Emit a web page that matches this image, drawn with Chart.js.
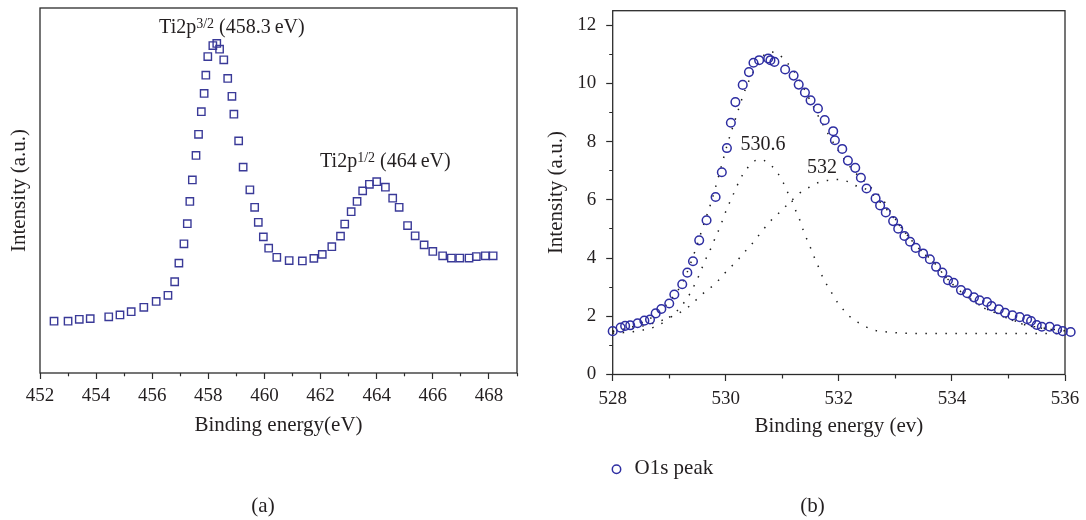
<!DOCTYPE html>
<html>
<head>
<meta charset="utf-8">
<script src="https://cdn.jsdelivr.net/npm/chart.js@4.4.1/dist/chart.umd.min.js"></script>
<style>
  body { margin: 0; background: #fff; }
  #wrap { position: relative; width: 1086px; height: 520px; }
  canvas { position: absolute; top: 0; }
  #ti { left: 0; }
  #os { left: 540px; }
</style>
</head>
<body>
<div id="wrap">
  <canvas id="ti" width="540" height="520"></canvas>
  <canvas id="os" width="546" height="520"></canvas>
</div>
<script>
// Ti 2p region, intensity in arbitrary units
const tiEnergy = [452.50, 453.00, 453.40, 453.79, 454.45, 454.85, 455.25, 455.70, 456.14, 456.56,
  456.80, 456.95, 457.13, 457.25, 457.34, 457.43, 457.56, 457.65, 457.75, 457.85,
  457.91, 457.98, 458.16, 458.30, 458.40, 458.55, 458.69, 458.84, 458.91, 459.08,
  459.24, 459.48, 459.65, 459.78, 459.96, 460.15, 460.44, 460.88, 461.35, 461.76,
  462.06, 462.40, 462.71, 462.86, 463.09, 463.30, 463.50, 463.74, 464.00, 464.31,
  464.57, 464.80, 465.10, 465.37, 465.69, 466.00, 466.35, 466.66, 466.96, 467.29,
  467.55, 467.87, 468.15];
const tiIntensity = [14.2, 14.2, 14.7, 14.9, 15.4, 15.9, 16.8, 18.0, 19.6, 21.3,
  25.0, 30.1, 35.4, 40.9, 47.0, 52.9, 59.6, 65.4, 71.6, 76.6,
  81.6, 86.7, 89.7, 90.3, 88.7, 85.8, 80.7, 75.8, 70.9, 63.6,
  56.4, 50.2, 45.4, 41.3, 37.3, 34.2, 31.7, 30.8, 30.7, 31.4,
  32.5, 34.6, 37.5, 40.8, 44.2, 47.0, 49.9, 51.7, 52.4, 50.9,
  47.9, 45.4, 40.4, 37.6, 35.1, 33.3, 32.1, 31.5, 31.5, 31.5,
  31.9, 32.1, 32.1];
const tiTicks = [452, 454, 456, 458, 460, 462, 464, 466, 468];

// O 1s region, measured points
const oEnergy = [528.00, 528.14, 528.22, 528.31, 528.44, 528.56, 528.66, 528.76, 528.86, 529.00,
  529.09, 529.23, 529.32, 529.42, 529.53, 529.66, 529.82, 529.93, 530.02, 530.09,
  530.17, 530.30, 530.41, 530.49, 530.59, 530.75, 530.79, 530.86, 531.05, 531.20,
  531.29, 531.40, 531.50, 531.63, 531.75, 531.90, 531.93, 532.06, 532.16, 532.29,
  532.39, 532.49, 532.65, 532.73, 532.83, 532.96, 533.05, 533.16, 533.26, 533.36,
  533.49, 533.61, 533.72, 533.83, 533.93, 534.03, 534.16, 534.27, 534.39, 534.49,
  534.62, 534.70, 534.83, 534.94, 535.07, 535.20, 535.33, 535.40, 535.50, 535.59,
  535.73, 535.86, 535.96, 536.10];
const oIntensity = [1.49, 1.61, 1.67, 1.69, 1.76, 1.85, 1.89, 2.10, 2.25, 2.44,
  2.75, 3.10, 3.50, 3.89, 4.61, 5.30, 6.10, 6.95, 7.78, 8.65,
  9.36, 9.95, 10.39, 10.71, 10.80, 10.86, 10.80, 10.74, 10.48, 10.27,
  9.96, 9.69, 9.42, 9.14, 8.74, 8.36, 8.05, 7.75, 7.35, 7.10,
  6.76, 6.39, 6.05, 5.81, 5.57, 5.27, 5.01, 4.76, 4.56, 4.35,
  4.16, 3.96, 3.70, 3.50, 3.24, 3.15, 2.90, 2.79, 2.65, 2.55,
  2.49, 2.35, 2.24, 2.12, 2.03, 1.97, 1.90, 1.84, 1.70, 1.64,
  1.64, 1.55, 1.49, 1.46];

// fitted envelope
const fitEnergy = [528.00, 528.36, 528.72, 529.01, 529.25, 529.46, 529.60, 529.75, 529.89, 530.03,
  530.18, 530.35, 530.48, 530.65, 530.78, 530.92, 531.09, 531.24, 531.37, 531.51,
  531.65, 531.81, 531.99, 532.24, 532.40, 532.58, 532.76, 532.93, 533.10, 533.30,
  533.50, 533.64, 533.90, 534.20, 534.58, 534.79, 534.97, 535.15, 535.29, 535.50,
  535.75, 536.00];
const fitIntensity = [1.48, 1.65, 2.00, 2.53, 3.22, 4.26, 5.10, 5.97, 6.93, 7.92,
  8.84, 9.82, 10.37, 10.92, 11.08, 11.02, 10.70, 10.32, 9.87, 9.35,
  8.83, 8.27, 7.70, 7.04, 6.73, 6.40, 6.05, 5.55, 5.06, 4.59,
  4.17, 3.94, 3.33, 2.79, 2.28, 2.11, 1.94, 1.82, 1.71, 1.63,
  1.56, 1.50];

// component at 530.6 eV
const peak1Energy = [528.00, 528.19, 528.36, 528.54, 528.72, 528.87, 529.01, 529.15, 529.25, 529.37,
  529.46, 529.53, 529.60, 529.67, 529.75, 529.82, 529.90, 529.96, 530.03, 530.10,
  530.18, 530.25, 530.35, 530.45, 530.60, 530.75, 530.90, 531.01, 531.09, 531.17,
  531.24, 531.31, 531.37, 531.44, 531.51, 531.58, 531.65, 531.72, 531.81, 531.90,
  531.99, 532.11, 532.24, 532.40, 532.58, 532.76, 532.93, 533.11, 533.50, 534.00,
  534.50, 535.00, 535.50, 536.00];
const peak1Intensity = [1.42, 1.44, 1.47, 1.53, 1.62, 1.76, 1.98, 2.21, 2.44, 2.79,
  3.13, 3.42, 3.76, 4.07, 4.39, 4.73, 5.07, 5.40, 5.74, 6.05,
  6.39, 6.70, 7.00, 7.25, 7.39, 7.27, 6.97, 6.62, 6.28, 5.97,
  5.62, 5.30, 4.96, 4.62, 4.30, 3.96, 3.65, 3.32, 3.01, 2.72,
  2.44, 2.16, 1.91, 1.73, 1.55, 1.48, 1.45, 1.42, 1.41, 1.41,
  1.41, 1.41, 1.41, 1.41];

// component at 532 eV
const peak2Energy = [528.00, 528.30, 528.60, 528.90, 529.20, 529.40, 529.53, 529.66, 529.80, 529.93,
  530.04, 530.18, 530.30, 530.43, 530.55, 530.66, 530.78, 530.92, 531.05, 531.17,
  531.31, 531.49, 531.64, 531.81, 532.00, 532.17, 532.34, 532.52, 532.70, 532.90,
  533.10, 533.30, 533.50, 533.64, 533.90, 534.20, 534.58, 534.79, 534.97, 535.15,
  535.29, 535.50, 535.75, 536.00];
const peak2Intensity = [1.48, 1.57, 1.70, 1.88, 2.14, 2.42, 2.67, 2.88, 3.10, 3.36,
  3.61, 3.86, 4.14, 4.41, 4.70, 4.97, 5.25, 5.51, 5.76, 5.99,
  6.24, 6.45, 6.60, 6.67, 6.70, 6.62, 6.45, 6.33, 5.98, 5.55,
  5.05, 4.58, 4.16, 3.93, 3.32, 2.78, 2.27, 2.10, 1.93, 1.81,
  1.70, 1.62, 1.55, 1.49];

const oTicksX = [528, 530, 532, 534, 536];
const oTicksY = [0, 2, 4, 6, 8, 10, 12];

const ink = '#231f20';
const axisInk = '#2b2b2b';
const serif = "'Liberation Serif', 'Times New Roman', serif";

Chart.defaults.font.family = serif;
Chart.defaults.color = ink;

const pairs = (xs, ys) => xs.map((x, i) => ({x: x, y: ys[i]}));

// box around the plotting area
const frame = {
  id: 'frame',
  beforeDatasetsDraw(chart) {
    const {ctx, chartArea: a} = chart;
    ctx.save();
    ctx.strokeStyle = axisInk;
    ctx.lineWidth = 1.3;
    ctx.strokeRect(a.left, a.top, a.right - a.left, a.bottom - a.top);
    ctx.restore();
  }
};

// peak labels, panel letter and the legend line
function notes(cfg) {
  return {
    id: 'notes',
    afterDraw(chart) {
      const ctx = chart.ctx, xs = chart.scales.x, ys = chart.scales.y;
      ctx.save();
      ctx.fillStyle = ink;
      ctx.textBaseline = 'alphabetic';
      cfg.labels.forEach(l => {
        let w = 0;
        l.parts.forEach(p => {
          ctx.font = (p.sup ? 14 : 20) + 'px ' + serif;
          w += ctx.measureText(p.t).width;
        });
        let x = xs.getPixelForValue(l.x) - w / 2;
        const y = ys.getPixelForValue(l.y);
        l.parts.forEach(p => {
          ctx.font = (p.sup ? 14 : 20) + 'px ' + serif;
          ctx.fillText(p.t, x, p.sup ? y - 5 : y);
          x += ctx.measureText(p.t).width;
        });
      });
      ctx.font = '21px ' + serif;
      ctx.textAlign = 'center';
      ctx.textBaseline = 'middle';
      ctx.fillText(cfg.caption, cfg.captionX, 506.5);
      if (cfg.legend) {
        const ds = chart.data.datasets[0];
        ctx.beginPath();
        ctx.arc(cfg.legend.x, 469.3, 4.2, 0, Math.PI * 2);
        ctx.strokeStyle = ds.borderColor;
        ctx.lineWidth = 1.5;
        ctx.stroke();
        ctx.textAlign = 'left';
        ctx.fillText(ds.label, cfg.legend.x + 18, 468);
      }
      ctx.restore();
    }
  };
}

function minorDash(list, lead, len) {
  return ctx => list.includes(ctx.tick.value) ? [] : (lead ? [0, lead, len, 40] : [len, 40]);
}

// fixed axis box sizes so the plotting area lands where it should
function fixX(h) {
  return s => { s.height = h; s.paddingLeft = 0; s.paddingRight = 0; };
}
function fixY(w) {
  return s => { s.width = w; s.paddingTop = 0; s.paddingBottom = 0; };
}

new Chart(document.getElementById('ti'), {
  type: 'scatter',
  data: {
    datasets: [{
      label: 'Ti 2p',
      data: pairs(tiEnergy, tiIntensity),
      pointStyle: 'rect',
      pointRadius: 5.2,
      pointBorderWidth: 1.4,
      borderColor: '#3a3a98',
      backgroundColor: 'rgba(0,0,0,0)',
      clip: false
    }]
  },
  options: {
    responsive: false,
    animation: false,
    layout: {padding: {left: 0, top: 8, right: 23, bottom: 82}},
    plugins: {legend: {display: false}, tooltip: {enabled: false}},
    scales: {
      x: {
        type: 'linear', min: 452, max: 469,
        border: {display: false},
        grid: {drawOnChartArea: false, tickLength: 6, tickWidth: 1.2, tickColor: axisInk,
               tickBorderDash: minorDash(tiTicks, 0, 3.3)},
        ticks: {stepSize: 1, autoSkip: false, maxRotation: 0, padding: 6,
                font: {size: 19}, color: ink,
                callback: v => tiTicks.includes(v) ? String(v) : ''},
        title: {display: true, text: 'Binding energy(eV)', font: {size: 21},
                padding: {top: 0, bottom: 0}, color: ink},
        afterFit: fixX(65)
      },
      y: {
        min: 0, max: 100,
        border: {display: false},
        grid: {display: false},
        ticks: {display: false},
        title: {display: true, text: 'Intensity (a.u.)', font: {size: 21},
                padding: {top: 7, bottom: 0}, color: ink},
        afterFit: fixY(40)
      }
    }
  },
  plugins: [frame, notes({
    labels: [
      {x: 458.84, y: 93.2, parts: [{t: 'Ti2p'}, {t: '3/2', sup: true}, {t: ' (458.3\u2009eV)'}]},
      {x: 464.31, y: 56.4, parts: [{t: 'Ti2p'}, {t: '1/2', sup: true}, {t: ' (464\u2009eV)'}]}
    ],
    caption: '(a)', captionX: 263
  })]
});

const dotted = (label, xs, ys) => ({
  label: label,
  data: pairs(xs, ys),
  showLine: true,
  pointRadius: 0,
  borderColor: '#1e1e1e',
  borderWidth: 1.5,
  borderDash: [1.5, 8.5],
  cubicInterpolationMode: 'monotone',
  clip: false
});

new Chart(document.getElementById('os'), {
  type: 'scatter',
  data: {
    datasets: [
      {
        label: 'O1s peak',
        data: pairs(oEnergy, oIntensity),
        pointStyle: 'circle',
        pointRadius: 4.3,
        pointBorderWidth: 1.5,
        borderColor: '#2e2ea2',
        backgroundColor: 'rgba(0,0,0,0)',
        clip: false
      },
      dotted('Fit', fitEnergy, fitIntensity),
      dotted('530.6', peak1Energy, peak1Intensity),
      dotted('532', peak2Energy, peak2Intensity)
    ]
  },
  options: {
    responsive: false,
    animation: false,
    layout: {padding: {left: 0, top: 10.7, right: 21, bottom: 80.5}},
    plugins: {legend: {display: false}, tooltip: {enabled: false}},
    scales: {
      x: {
        type: 'linear', min: 528, max: 536,
        border: {display: false},
        grid: {drawOnChartArea: false, tickLength: 6.5, tickWidth: 1.2, tickColor: axisInk,
               tickBorderDash: minorDash(oTicksX, 0, 3.5)},
        ticks: {stepSize: 1, autoSkip: false, maxRotation: 0, padding: 6.6,
                includeBounds: false, font: {size: 19}, color: ink,
                callback: v => oTicksX.includes(v) ? String(v) : ''},
        title: {display: true, text: 'Binding energy (ev)', font: {size: 21},
                padding: {top: 0, bottom: 0}, color: ink},
        afterFit: fixX(65)
      },
      y: {
        min: 0, max: 12.5,
        border: {display: false},
        grid: {drawOnChartArea: false, tickLength: 6.5, tickWidth: 1.2, tickColor: axisInk,
               tickBorderDash: minorDash(oTicksY, 3, 3.5)},
        ticks: {stepSize: 1, autoSkip: false, padding: 10, includeBounds: false,
                font: {size: 19}, color: ink,
                callback: v => oTicksY.includes(v) ? String(v) : ''},
        title: {display: true, text: 'Intensity (a.u.)', font: {size: 21},
                padding: {top: 4, bottom: 0}, color: ink},
        afterFit: fixY(72.7)
      }
    }
  },
  plugins: [frame, notes({
    labels: [
      {x: 530.66, y: 7.73, parts: [{t: '530.6'}]},
      {x: 531.70, y: 6.93, parts: [{t: '532'}]}
    ],
    caption: '(b)', captionX: 272.4,
    legend: {x: 76.5}
  })]
});
</script>
</body>
</html>
